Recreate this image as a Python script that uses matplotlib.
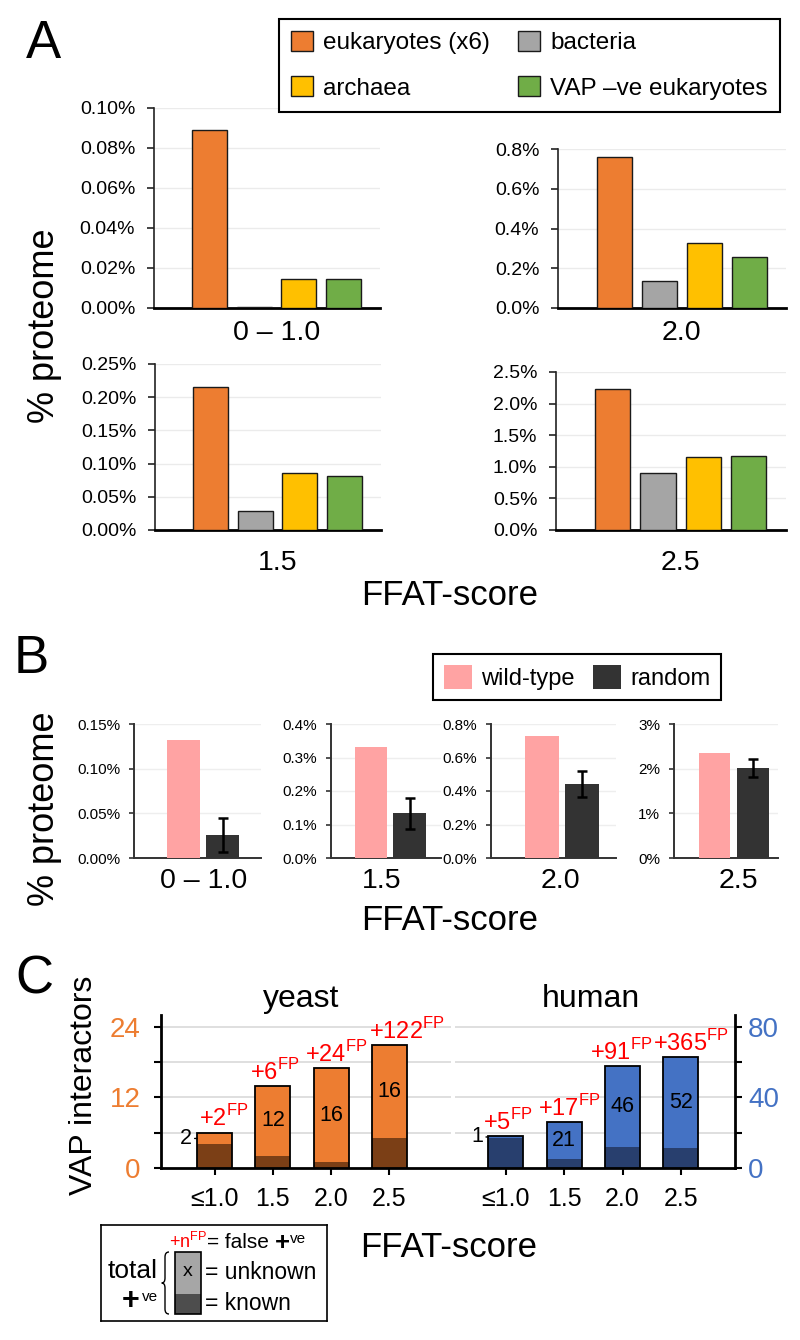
import numpy as np
import matplotlib.pyplot as plt
from matplotlib.patches import Patch, Rectangle, PathPatch
from matplotlib.path import Path
from matplotlib.ticker import FormatStrFormatter

plt.rcParams['font.family'] = ['Liberation Sans', 'DejaVu Sans']
plt.rcParams['mathtext.fontset'] = 'custom'
plt.rcParams['mathtext.rm'] = 'Liberation Sans'
plt.rcParams['mathtext.bf'] = 'Liberation Sans:bold'

# ---- panel A data (% of proteome) ----
scores_a = ['0 – 1.0', '1.5', '2.0', '2.5']
groups_a = ['eukaryotes (x6)', 'bacteria', 'archaea', 'VAP –ve eukaryotes']
colors_a = ['#ED7D31', '#A5A5A5', '#FFC000', '#70AD47']
euk = [0.089, 0.215, 0.762, 2.237]
bact = [0.0004, 0.029, 0.137, 0.895]
arch = [0.0143, 0.0854, 0.329, 1.148]
vap_neg = [0.0147, 0.0813, 0.258, 1.169]

# ---- panel B data (% of proteome) ----
scores_b = ['0 – 1.0', '1.5', '2.0', '2.5']
wild_type = [0.132, 0.332, 0.727, 2.356]
random_mean = [0.026, 0.133, 0.444, 2.013]
random_err = [0.019, 0.046, 0.077, 0.20]

# ---- panel C data (VAP interactors) ----
scores_c = ['≤1.0', '1.5', '2.0', '2.5']
yeast_known = [4, 2, 1, 5]
yeast_unknown = [2, 12, 16, 16]
yeast_fp = [2, 6, 24, 122]
human_known = [17, 5, 12, 11]
human_unknown = [1, 21, 46, 52]
human_fp = [5, 17, 91, 365]

# horizontal nudges (px) of the false-positive labels
yeast_fp_dx = [9, 2, 5, 17]
human_fp_dx = [2, 5, -1, 10]

W, H = 800, 1340


def rect(l, t, r, b):
    return [l / W, 1 - b / H, (r - l) / W, (b - t) / H]


fig = plt.figure(figsize=(8, 13.4), dpi=100)

# ================= A =================
# left, top, right, bottom (px), ymax, step, fmt, label pad
a_layout = [
    (154, 108, 380, 308, 0.10, 0.02, '%.2f%%', 8.5),
    (155, 364, 381, 530, 0.25, 0.05, '%.2f%%', 14.5),
    (558, 149, 786, 308, 0.8, 0.2, '%.1f%%', 8.5),
    (556, 372, 786, 530, 2.5, 0.5, '%.1f%%', 14.5),
]
x = np.arange(4)
for i, score in enumerate(scores_a):
    l, t, r, b, ymax, step, fmt, lpad = a_layout[i]
    ax = fig.add_axes(rect(l, t, r, b))
    vals = [euk[i], bact[i], arch[i], vap_neg[i]]
    ax.bar(x, vals, width=0.78, color=colors_a, edgecolor='#1a1a1a',
           linewidth=1.0, zorder=3)
    ax.set_xlim(-1.25, 3.82)
    ax.set_ylim(0, ymax)
    ax.set_yticks(np.arange(0, ymax + step / 2, step))
    ax.yaxis.set_major_formatter(FormatStrFormatter(fmt))
    ax.grid(axis='y', color='#ebebeb', lw=1, zorder=0)
    ax.set_xticks([1.5], [score])
    ax.tick_params(axis='x', length=0, pad=lpad, labelsize=20.5)
    ax.tick_params(axis='y', direction='out', length=5, width=1.2,
                   pad=8.5, labelsize=14, color='#222222')
    for s in ['top', 'right']:
        ax.spines[s].set_visible(False)
    ax.spines['left'].set_color('#222222')
    ax.spines['left'].set_linewidth(1.2)
    ax.spines['bottom'].set_linewidth(2.0)

handles_a = [Patch(facecolor=c, edgecolor='#1a1a1a', lw=1, label=g)
             for g, c in zip(groups_a, colors_a)]
order = [0, 2, 1, 3]
fig.legend(handles=[handles_a[k] for k in order], loc='upper left',
           bbox_to_anchor=(279 / W, 1 - 19 / H), borderaxespad=0, ncol=2,
           fontsize=17.5, handlelength=0.9, handleheight=0.87,
           handletextpad=0.42, columnspacing=1.15, labelspacing=0.9,
           borderpad=0.5, fancybox=False, edgecolor='black', framealpha=1)
fig.legends[-1].get_frame().set_linewidth(1.5)

fig.text(25.8 / W, 1 - 58.3 / H, 'A', fontsize=38, ha='left', va='baseline')
fig.text(45 / W, 1 - 326 / H, '% proteome', rotation=90, fontsize=26,
         ha='center', va='center')
fig.text(450 / W, 1 - 605 / H, 'FFAT-score', fontsize=25, ha='center',
         va='baseline')

# ================= B =================
# left, right (px), xlim left, xlim right, ymax, step, fmt, label x
b_layout = [
    (134, 261, 1.27, 1.98, 0.15, 0.05, '%.2f%%', 0.50),
    (330.7, 441, 1.03, 1.81, 0.4, 0.1, '%.1f%%', 0.28),
    (491, 616, 1.25, 1.83, 0.8, 0.2, '%.1f%%', 0.45),
    (674, 778.3, 1.06, 1.67, 3, 1, '%.0f%%', 0.62),
]
for i, score in enumerate(scores_b):
    l, r, xl, xr, ymax, step, fmt, lx = b_layout[i]
    ax = fig.add_axes(rect(l, 724, r, 858))
    ax.bar([0, 1], [wild_type[i], random_mean[i]], width=0.83,
           color=['#FFA3A3', '#333333'], zorder=3)
    ax.errorbar(1, random_mean[i], yerr=random_err[i], fmt='none',
                ecolor='black', elinewidth=1.8, capsize=3.6, capthick=1.8,
                zorder=4)
    ax.set_xlim(-xl, xr)
    ax.set_ylim(0, ymax)
    ax.set_yticks(np.arange(0, ymax + step / 2, step))
    ax.yaxis.set_major_formatter(FormatStrFormatter(fmt))
    ax.grid(axis='y', color='#eeeeee', lw=1, zorder=0)
    ax.set_xticks([lx], [score])
    ax.tick_params(axis='x', length=0, pad=7, labelsize=20.5)
    ax.tick_params(axis='y', direction='out', length=3.5, width=1.2,
                   pad=6.5, labelsize=11, color='#333333')
    for s in ['top', 'right']:
        ax.spines[s].set_visible(False)
    for s in ['left', 'bottom']:
        ax.spines[s].set_color('#333333')
        ax.spines[s].set_linewidth(1.4)

handles_b = [Patch(facecolor='#FFA3A3', label='wild-type'),
             Patch(facecolor='#333333', label='random')]
fig.legend(handles=handles_b, loc='upper left',
           bbox_to_anchor=(433.3 / W, 1 - 654 / H), borderaxespad=0, ncol=2,
           fontsize=17, handlelength=1.19, handleheight=1.19,
           handletextpad=0.38, columnspacing=0.8, borderpad=0.45,
           fancybox=False, edgecolor='black', framealpha=1)
fig.legends[-1].get_frame().set_linewidth(1.5)

fig.text(14 / W, 1 - 673 / H, 'B', fontsize=38, ha='left', va='baseline')
fig.text(45 / W, 1 - 809 / H, '% proteome', rotation=90, fontsize=26,
         ha='center', va='center')
fig.text(450 / W, 1 - 930 / H, 'FFAT-score', fontsize=25, ha='center',
         va='baseline')

# ================= C =================
axc = fig.add_axes(rect(160.7, 1015, 735, 1167.7))
axh = axc.twinx()
ymax_c = 26.1
axc.set_xlim(-0.925, 8.93)
axc.set_ylim(0, ymax_c)
axh.set_ylim(0, ymax_c * 80 / 24)

axc.hlines([6, 12, 18, 24], -0.925, 4.06, color='#d9d9d9', lw=1.2, zorder=0)
axc.hlines([6, 12, 18, 24], 4.13, 8.93, color='#d9d9d9', lw=1.2, zorder=0)


def stacked(ax, xs, known, unknown, fps, fp_dx, light, dark, top):
    total = np.array(known) + np.array(unknown)
    ax.bar(xs, known, width=0.6, color=dark, zorder=3)
    ax.bar(xs, unknown, width=0.6, bottom=known, color=light, zorder=3)
    ax.bar(xs, total, width=0.6, fill=False, edgecolor='black', lw=1.3,
           zorder=4)
    for xi, k, u, fp, dx, tot in zip(xs, known, unknown, fps, fp_dx, total):
        mid = k + u / 2
        if u / top < 0.1:
            ax.annotate(str(u), xy=(xi - 0.3, mid), xytext=(-3.8, 0),
                        textcoords='offset points', ha='right', va='center',
                        fontsize=15.5, zorder=5,
                        arrowprops=dict(arrowstyle='-', lw=1, shrinkA=0,
                                        shrinkB=0))
        else:
            ax.text(xi, mid, str(u), ha='center', va='center', fontsize=15.5,
                    zorder=5)
        ax.annotate('+%d$^{\\mathrm{FP}}$' % fp, xy=(xi, tot),
                    xytext=(dx * 0.72, 4.5), textcoords='offset points',
                    ha='center', va='baseline', color='red', fontsize=17,
                    zorder=5)


stacked(axc, np.arange(4), yeast_known, yeast_unknown, yeast_fp, yeast_fp_dx,
        '#ED7D31', '#7B3F16', ymax_c)
stacked(axh, np.arange(5, 9), human_known, human_unknown, human_fp,
        human_fp_dx, '#4472C4', '#283F6E', ymax_c * 80 / 24)

axc.set_yticks([0, 6, 12, 18, 24], ['0', '', '12', '', '24'])
axh.set_yticks([0, 20, 40, 60, 80], ['0', '', '40', '', '80'])
axc.set_xticks(list(range(4)) + list(range(5, 9)), scores_c + scores_c)
axc.tick_params(axis='y', direction='out', length=5, width=1.5, pad=9.4,
                labelsize=20, labelcolor='#ED7D31')
axh.tick_params(axis='y', direction='out', length=5, width=1.5, pad=4.3,
                labelsize=20, labelcolor='#4472C4')
axc.tick_params(axis='x', direction='out', length=5, width=1.5, pad=8.6,
                labelsize=18)
for s in ['top', 'right']:
    axc.spines[s].set_visible(False)
for s in ['top', 'left', 'bottom']:
    axh.spines[s].set_visible(False)
axc.spines['left'].set_linewidth(2)
axc.spines['bottom'].set_linewidth(2)
axh.spines['right'].set_linewidth(2)

fig.text(15.5 / W, 1 - 993.3 / H, 'C', fontsize=38, ha='left', va='baseline')
fig.text(84 / W, 1 - 1085 / H, 'VAP interactors', rotation=90, fontsize=23,
         ha='center', va='center')
fig.text(301 / W, 1 - 1007 / H, 'yeast', fontsize=23, ha='center',
         va='baseline')
fig.text(591 / W, 1 - 1007 / H, 'human', fontsize=23, ha='center',
         va='baseline')
fig.text(449 / W, 1 - 1256.7 / H, 'FFAT-score', fontsize=25, ha='center',
         va='baseline')

# key for panel C
axl = fig.add_axes(rect(101, 1225, 326.7, 1321))
axl.set_xlim(0, 225.7)
axl.set_ylim(96, 0)
axl.set_xticks([])
axl.set_yticks([])
for s in axl.spines.values():
    s.set_linewidth(1.2)
axl.text(68, 23, '+n$^{\\mathrm{FP}}$', color='red', fontsize=13,
         ha='left', va='baseline')
axl.text(105.7, 23.3, '= false', fontsize=15, ha='left', va='baseline')
axl.text(174, 25.2, '+', fontsize=18.5, fontweight='bold', ha='left',
         va='baseline')
axl.text(189, 18, 've', fontsize=11, ha='left', va='baseline')
axl.add_patch(Rectangle((74, 26.7), 26, 42.3, facecolor='#A6A6A6',
                        edgecolor='none'))
axl.add_patch(Rectangle((74, 69), 26, 20.3, facecolor='#4D4D4D',
                        edgecolor='none'))
axl.add_patch(Rectangle((74, 26.7), 26, 62.6, fill=False,
                        edgecolor='black', lw=1.2))
axl.text(87, 47, 'x', fontsize=14, ha='center', va='center')
axl.text(104, 54, '= unknown', fontsize=16.5, ha='left', va='baseline')
axl.text(104, 85, '= known', fontsize=16.5, ha='left', va='baseline')
axl.text(56.3, 53.3, 'total', fontsize=19, ha='right', va='baseline')
axl.text(20.7, 83.9, '+', fontsize=22, fontweight='bold', ha='left',
         va='baseline')
axl.text(40.7, 76, 've', fontsize=11, ha='left', va='baseline')
brace = Path([(68, 27), (64, 27), (64, 32), (64, 53), (64, 58), (60.7, 58),
              (64, 58), (64, 63), (64, 84), (64, 89), (68, 89)],
             [Path.MOVETO, Path.CURVE3, Path.CURVE3, Path.LINETO,
              Path.CURVE3, Path.CURVE3, Path.CURVE3, Path.CURVE3,
              Path.LINETO, Path.CURVE3, Path.CURVE3])
axl.add_patch(PathPatch(brace, facecolor='none', edgecolor='black', lw=1))

plt.savefig('out.png', dpi=100)
